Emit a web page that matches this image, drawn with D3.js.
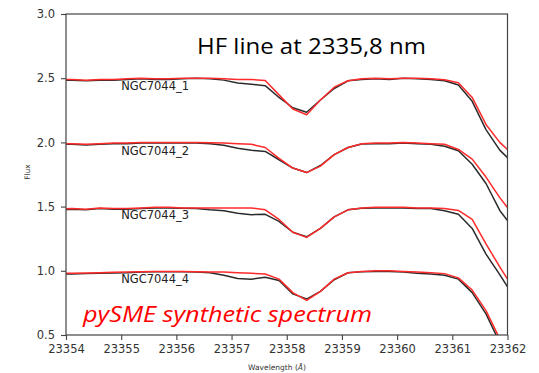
<!DOCTYPE html>
<html>
<head>
<meta charset="utf-8">
<script src="https://cdn.jsdelivr.net/npm/d3@7"></script>
<style>
  body { margin: 0; background: #fff; }
  svg { display: block; }
</style>
</head>
<body>
<svg id="chart"></svg>
<script>
var width = 539;
var height = 373;

// wavelength grid of the spectra (Angstrom)
var wavelengths = [23353.86, 23354.11, 23354.36, 23354.61, 23354.86, 23355.11, 23355.36, 23355.61,
    23355.86, 23356.11, 23356.36, 23356.61, 23356.86, 23357.11, 23357.36, 23357.61, 23357.86,
    23358.11, 23358.36, 23358.61, 23358.86, 23359.11, 23359.36, 23359.61, 23359.86, 23360.11,
    23360.36, 23360.61, 23360.86, 23361.11, 23361.36, 23361.61, 23361.86, 23362.11];

// observed (black) and pySME synthetic (red) flux, already shifted per star
var obs1 = [2.485, 2.485, 2.48, 2.485, 2.485, 2.49, 2.495, 2.49, 2.49, 2.495, 2.50, 2.495, 2.485, 2.462,
    2.452, 2.442, 2.35, 2.27, 2.235, 2.33, 2.42, 2.48, 2.49, 2.495, 2.49, 2.50, 2.495, 2.49, 2.48, 2.447,
    2.32, 2.10, 1.94, 1.835];
var syn1 = [2.49, 2.49, 2.485, 2.49, 2.49, 2.495, 2.50, 2.495, 2.495, 2.50, 2.50, 2.50, 2.495, 2.49,
    2.49, 2.482, 2.37, 2.26, 2.215, 2.33, 2.43, 2.48, 2.495, 2.50, 2.495, 2.50, 2.50, 2.495, 2.488, 2.465,
    2.35, 2.14, 2.0, 1.90];

var obs2 = [1.985, 1.985, 1.98, 1.985, 1.99, 1.99, 1.995, 1.995, 1.995, 1.995, 1.995, 1.99, 1.978, 1.955,
    1.938, 1.93, 1.865, 1.80, 1.765, 1.82, 1.905, 1.96, 1.988, 1.99, 1.99, 1.995, 1.99, 1.985, 1.97, 1.935,
    1.83, 1.68, 1.47, 1.33];
var syn2 = [1.99, 1.99, 1.985, 1.99, 1.995, 1.995, 2.0, 2.0, 2.0, 2.0, 2.0, 1.998, 1.995, 1.99, 1.985,
    1.96, 1.875, 1.80, 1.765, 1.815, 1.905, 1.96, 1.99, 1.995, 1.995, 2.0, 1.995, 1.99, 1.985, 1.945,
    1.87, 1.73, 1.57, 1.43];

var obs3 = [1.475, 1.48, 1.475, 1.485, 1.48, 1.48, 1.485, 1.49, 1.49, 1.487, 1.485, 1.475, 1.468, 1.448,
    1.437, 1.44, 1.385, 1.30, 1.265, 1.33, 1.42, 1.475, 1.488, 1.49, 1.49, 1.49, 1.485, 1.485, 1.468, 1.44,
    1.33, 1.13, 0.97, 0.80];
var syn3 = [1.48, 1.485, 1.48, 1.49, 1.485, 1.485, 1.49, 1.495, 1.495, 1.49, 1.49, 1.49, 1.49, 1.49,
    1.49, 1.475, 1.40, 1.30, 1.26, 1.33, 1.42, 1.475, 1.49, 1.495, 1.495, 1.495, 1.49, 1.49, 1.485, 1.47,
    1.40, 1.21, 1.03, 0.86];

var obs4 = [0.975, 0.975, 0.978, 0.98, 0.983, 0.985, 0.99, 0.993, 0.993, 0.993, 0.99, 0.985, 0.965, 0.94,
    0.935, 0.95, 0.925, 0.82, 0.78, 0.84, 0.93, 0.985, 0.993, 0.995, 0.995, 0.99, 0.98, 0.975, 0.965, 0.935,
    0.83, 0.665, 0.44, 0.28];
var syn4 = [0.98, 0.98, 0.983, 0.985, 0.988, 0.99, 0.993, 0.995, 0.995, 0.995, 0.993, 0.99, 0.99, 0.985,
    0.98, 0.975, 0.935, 0.83, 0.77, 0.84, 0.935, 0.985, 0.995, 1.0, 1.0, 0.995, 0.99, 0.985, 0.978, 0.945,
    0.85, 0.69, 0.47, 0.30];

var starNames = ["NGC7044_1", "NGC7044_2", "NGC7044_3", "NGC7044_4"];
var labelX = [23355, 23355, 23355, 23355];
var labelY = [2.405, 1.905, 1.405, 0.905];

var xTicks = [23354, 23355, 23356, 23357, 23358, 23359, 23360, 23361, 23362];
var yTicks = [0.5, 1.0, 1.5, 2.0, 2.5, 3.0];

var plotLeft = 66, plotRight = 507.5, plotTop = 14, plotBottom = 335;

var x = d3.scaleLinear().domain([23354, 23362]).range([plotLeft, plotRight]);
var y = d3.scaleLinear().domain([0.5, 3.0]).range([plotBottom, plotTop]);

var svg = d3.select("#chart")
    .attr("width", width)
    .attr("height", height)
    .style("font-family", "'DejaVu Sans', sans-serif");

svg.append("defs").append("clipPath")
    .attr("id", "plotclip")
  .append("rect")
    .attr("x", plotLeft)
    .attr("y", plotTop)
    .attr("width", plotRight - plotLeft)
    .attr("height", plotBottom - plotTop);

var line = d3.line()
    .x(function(d, i) { return x(wavelengths[i]); })
    .y(function(d) { return y(d); });

var plot = svg.append("g").attr("clip-path", "url(#plotclip)");

var pairs = [[obs1, syn1], [obs2, syn2], [obs3, syn3], [obs4, syn4]];
pairs.forEach(function(p) {
    plot.append("path")
        .attr("d", line(p[0]))
        .attr("fill", "none")
        .attr("stroke", "#2b2b2b")
        .attr("stroke-width", 1.5)
        .attr("stroke-linejoin", "round");
    plot.append("path")
        .attr("d", line(p[1]))
        .attr("fill", "none")
        .attr("stroke", "#ff2a2a")
        .attr("stroke-width", 1.5)
        .attr("stroke-linejoin", "round");
});

// star labels
svg.selectAll("text.star")
    .data(starNames)
    .enter().append("text")
    .attr("class", "star")
    .attr("x", function(d, i) { return x(labelX[i]); })
    .attr("y", function(d, i) { return y(labelY[i]); })
    .attr("font-size", 11.5)
    .attr("fill", "#222")
    .text(function(d) { return d; });

// frame
svg.append("rect")
    .attr("x", plotLeft)
    .attr("y", plotTop)
    .attr("width", plotRight - plotLeft)
    .attr("height", plotBottom - plotTop)
    .attr("fill", "none")
    .attr("stroke", "#444")
    .attr("stroke-width", 1.2);

var xAxis = svg.append("g")
    .attr("transform", "translate(0," + plotBottom + ")")
    .call(d3.axisBottom(x).tickValues(xTicks).tickFormat(d3.format("d")).tickSize(5).tickPadding(5));

var yAxis = svg.append("g")
    .attr("transform", "translate(" + plotLeft + ",0)")
    .call(d3.axisLeft(y).tickValues(yTicks).tickFormat(d3.format(".1f")).tickSize(5).tickPadding(6));

[xAxis, yAxis].forEach(function(a) {
    a.select(".domain").remove();
    a.selectAll(".tick line").attr("stroke", "#444").attr("stroke-width", 1.1);
    a.selectAll(".tick text")
        .attr("fill", "#333")
        .attr("font-size", 11.5)
        .attr("font-family", "'DejaVu Sans', sans-serif");
});

// axis titles
var xLabel = svg.append("text")
    .attr("x", 277)
    .attr("y", 370)
    .attr("text-anchor", "middle")
    .attr("font-size", 7.5)
    .attr("fill", "#333");
xLabel.append("tspan").text("Wavelength (");
xLabel.append("tspan").attr("font-style", "italic").text("\u00C5");
xLabel.append("tspan").text(")");

svg.append("text")
    .attr("transform", "translate(30,172) rotate(-90)")
    .attr("text-anchor", "middle")
    .attr("font-size", 7.5)
    .attr("fill", "#333")
    .text("Flux");

// overlaid annotations
svg.append("text")
    .attr("x", 197)
    .attr("y", 54)
    .attr("font-family", "'Open Sans', sans-serif")
    .attr("font-size", 22)
    .attr("textLength", 229)
    .attr("lengthAdjust", "spacingAndGlyphs")
    .attr("fill", "#000")
    .text("HF line at 2335,8 nm");

svg.append("text")
    .attr("x", 83)
    .attr("y", 322)
    .attr("font-family", "'Open Sans', sans-serif")
    .attr("font-size", 21)
    .attr("font-style", "italic")
    .attr("textLength", 289)
    .attr("lengthAdjust", "spacingAndGlyphs")
    .attr("fill", "#ff0000")
    .text("pySME synthetic spectrum");
</script>
</body>
</html>
